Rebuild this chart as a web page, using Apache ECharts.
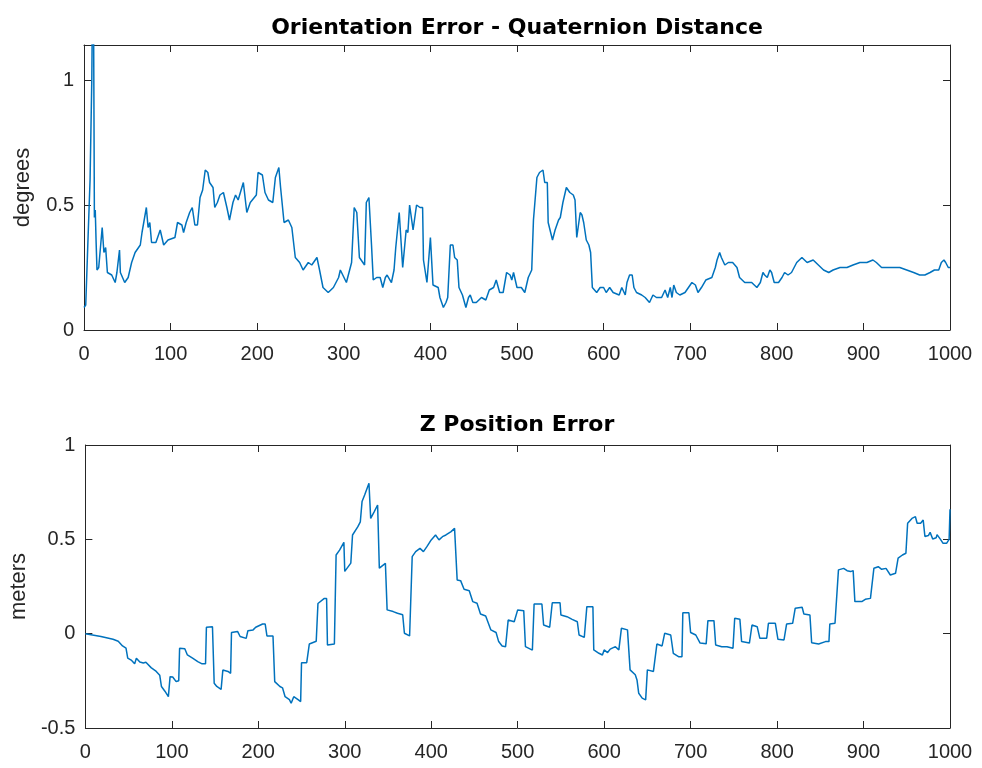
<!DOCTYPE html>
<html>
<head>
<meta charset="utf-8">
<script src="https://cdn.jsdelivr.net/npm/echarts@6/dist/echarts.min.js"></script>
<style>
  html, body { margin: 0; padding: 0; background: #fff; }
  #chart { width: 982px; height: 768px; }
</style>
</head>
<body>
<div id="chart"></div>
<script>
// Orientation error (quaternion distance), degrees, over sample index
const orientX = [0,2,4,7,9,10,11,12,13,14,15,17,21,23,25,27,32,36,38,41,42,47,51,55,59,65,67,70,72,74,76,78,83,88,92,97,105,108,113,115,118,122,125,128,131,134,137,140,143,145,149,151,154,157,161,165,168,172,175,178,184,188,192,199,201,206,209,213,218,221,225,227,231,236,240,244,249,253,259,263,269,272,276,282,288,294,296,303,309,312,315,318,324,326,329,332,334,338,342,345,348,350,355,358,360,364,366,368,370,372,374,376,378,380,382,384,388,391,392,394,396,398,400,402,403,409,411,415,418,420,422,423,426,428,431,433,437,441,444,446,449,453,459,464,468,473,476,480,484,488,492,494,496,500,505,509,513,517,519,523,526,530,532,535,536,538,541,544,548,550,553,557,561,565,567,569,571,573,575,577,580,583,585,587,592,596,600,603,607,611,618,621,625,627,630,633,635,638,644,648,653,657,661,667,671,674,677,679,681,684,688,694,698,702,706,709,713,718,725,729,731,734,736,740,744,749,754,757,763,771,777,781,784,786,789,792,794,797,802,806,809,813,817,823,829,835,842,848,854,860,865,873,881,888,896,904,911,915,921,929,935,942,950,958,965,971,977,982,987,990,993,995,998,1000];
const orientDeg = [0.09,0.10,0.30,0.60,1.00,1.40,1.30,0.45,0.48,0.35,0.24,0.25,0.41,0.31,0.33,0.23,0.22,0.19,0.23,0.32,0.23,0.19,0.21,0.27,0.31,0.34,0.39,0.45,0.49,0.41,0.43,0.35,0.35,0.40,0.34,0.36,0.37,0.43,0.42,0.39,0.43,0.47,0.49,0.42,0.42,0.53,0.56,0.64,0.63,0.59,0.57,0.49,0.51,0.54,0.55,0.49,0.44,0.51,0.54,0.52,0.59,0.47,0.51,0.54,0.63,0.62,0.55,0.52,0.51,0.61,0.65,0.57,0.43,0.44,0.41,0.29,0.27,0.24,0.27,0.26,0.29,0.24,0.17,0.15,0.17,0.21,0.24,0.19,0.27,0.49,0.47,0.29,0.26,0.51,0.53,0.34,0.20,0.21,0.21,0.17,0.21,0.22,0.19,0.24,0.33,0.47,0.47,0.25,0.25,0.40,0.39,0.50,0.50,0.40,0.40,0.50,0.49,0.49,0.28,0.28,0.19,0.19,0.37,0.37,0.18,0.17,0.13,0.09,0.11,0.13,0.13,0.34,0.34,0.29,0.28,0.17,0.14,0.09,0.13,0.14,0.11,0.11,0.13,0.12,0.16,0.17,0.20,0.15,0.15,0.23,0.22,0.20,0.23,0.17,0.17,0.15,0.21,0.24,0.44,0.61,0.63,0.64,0.59,0.59,0.43,0.43,0.36,0.40,0.44,0.45,0.51,0.57,0.55,0.54,0.52,0.37,0.37,0.47,0.46,0.43,0.36,0.34,0.31,0.17,0.15,0.17,0.17,0.15,0.17,0.15,0.14,0.17,0.14,0.19,0.22,0.22,0.17,0.15,0.14,0.13,0.11,0.14,0.13,0.13,0.16,0.13,0.17,0.13,0.18,0.15,0.14,0.15,0.17,0.19,0.18,0.15,0.17,0.20,0.21,0.25,0.28,0.31,0.29,0.26,0.27,0.27,0.25,0.21,0.19,0.19,0.17,0.19,0.23,0.22,0.21,0.24,0.23,0.19,0.19,0.21,0.23,0.22,0.23,0.27,0.29,0.27,0.28,0.26,0.24,0.23,0.24,0.25,0.25,0.26,0.27,0.27,0.28,0.27,0.25,0.25,0.25,0.25,0.24,0.23,0.22,0.22,0.23,0.24,0.24,0.27,0.28,0.27,0.25,0.25];

// Z position error, meters, over sample index
const zposX = [0,18,32,38,43,47,49,53,57,59,63,67,70,76,82,86,88,92,96,98,101,105,108,109,115,118,124,130,135,139,140,147,149,152,157,159,165,168,169,176,179,186,188,194,197,205,208,210,217,219,225,228,231,236,238,241,246,249,250,256,259,267,269,276,279,280,288,290,294,299,300,307,309,315,318,320,323,328,330,334,338,340,347,349,356,361,367,369,375,377,378,382,387,391,395,400,405,409,413,417,423,427,430,434,438,444,448,453,457,463,469,475,478,482,486,489,496,500,507,509,517,519,528,530,537,540,549,550,557,563,569,571,577,580,587,588,594,598,600,604,607,609,613,617,620,627,630,636,638,640,644,648,650,657,661,667,670,677,680,686,690,691,698,700,706,711,718,720,727,729,736,742,749,751,757,759,768,771,777,780,788,790,798,801,808,811,818,821,829,831,838,840,848,856,860,861,867,871,877,881,885,888,890,898,902,908,912,917,921,926,931,937,938,940,945,949,951,956,960,962,966,969,971,975,977,980,984,985,989,992,996,999,1000];
const zposM = [0.00,-0.015,-0.03,-0.04,-0.065,-0.077,-0.13,-0.14,-0.16,-0.13,-0.15,-0.155,-0.152,-0.18,-0.20,-0.22,-0.28,-0.305,-0.334,-0.228,-0.23,-0.254,-0.25,-0.077,-0.08,-0.113,-0.13,-0.148,-0.16,-0.16,0.034,0.037,-0.263,-0.28,-0.295,-0.193,-0.20,-0.21,0.006,0.012,-0.015,-0.025,0.016,0.02,0.034,0.051,0.051,-0.012,-0.012,-0.254,-0.28,-0.287,-0.334,-0.35,-0.369,-0.334,-0.35,-0.36,-0.154,-0.154,-0.055,-0.04,0.16,0.186,0.186,-0.06,-0.055,0.417,0.443,0.484,0.33,0.374,0.523,0.566,0.593,0.70,0.735,0.797,0.611,0.646,0.682,0.347,0.373,0.126,0.117,0.108,0.10,0.002,-0.012,-0.012,0.408,0.435,0.452,0.435,0.461,0.497,0.523,0.497,0.514,0.523,0.541,0.558,0.285,0.281,0.235,0.228,0.17,0.161,0.104,0.094,0.02,0.006,-0.042,-0.065,-0.069,0.072,0.063,0.126,0.122,-0.069,-0.087,0.157,0.157,0.046,0.034,0.164,0.164,0.099,0.09,0.076,0.063,-0.007,-0.02,0.143,0.143,-0.086,-0.104,-0.113,-0.086,-0.10,-0.082,-0.077,-0.069,-0.086,0.029,0.02,-0.192,-0.218,-0.245,-0.316,-0.342,-0.351,-0.192,-0.20,-0.055,-0.065,0.002,-0.007,-0.104,-0.122,-0.122,0.111,0.111,0.006,-0.007,-0.05,-0.054,0.069,0.069,-0.06,-0.069,-0.069,-0.077,0.082,0.076,-0.042,-0.05,0.046,0.037,-0.024,-0.024,0.055,0.055,-0.03,-0.033,0.051,0.055,0.135,0.14,0.104,0.099,-0.048,-0.055,-0.042,-0.042,0.051,0.055,0.338,0.346,0.334,0.329,0.334,0.17,0.17,0.182,0.187,0.347,0.355,0.341,0.346,0.311,0.32,0.32,0.40,0.417,0.426,0.585,0.611,0.62,0.585,0.585,0.602,0.515,0.52,0.537,0.502,0.508,0.525,0.50,0.479,0.479,0.50,0.66];

const xTicks = [0,100,200,300,400,500,600,700,800,900,1000];
const orientTicks = [0, 0.5, 1];
const zposTicks = [-0.5, 0, 0.5, 1];

const ink = '#262626';
const lineBlue = '#0072BD';
const fontFamily = 'Liberation Sans, Arial, sans-serif';
const titleFont = 'DejaVu Sans, sans-serif';

const pairs = (xs, ys) => xs.map((x, i) => [x, ys[i]]);
const fmtTick = (v) => String(Math.round(v * 100) / 100);

const boxLine = { show: true, onZero: false, lineStyle: { color: ink, width: 1 } };
const inTick = { show: true, inside: true, length: 7, lineStyle: { color: ink } };

function xAxisPair(gridIndex) {
  const common = {
    type: 'value', gridIndex, min: xTicks[0], max: xTicks[xTicks.length - 1], interval: 100,
    axisLine: boxLine, axisTick: inTick, splitLine: { show: false }
  };
  return [
    Object.assign({}, common, {
      position: 'bottom',
      axisLabel: { show: true, color: ink, fontSize: 20, fontFamily, margin: 14, formatter: (v) => String(v) }
    }),
    Object.assign({}, common, { position: 'top', axisLabel: { show: false } })
  ];
}

function yAxisPair(gridIndex, ticks, min, max, name) {
  const allowed = new Set(ticks.map(fmtTick));
  const common = {
    type: 'value', gridIndex, min, max, interval: 0.5,
    axisLine: boxLine, axisTick: inTick, splitLine: { show: false }
  };
  return [
    Object.assign({}, common, {
      position: 'left',
      name, nameLocation: 'middle', nameGap: 50, nameRotate: 90,
      nameTextStyle: { color: ink, fontSize: 22, fontFamily },
      axisLabel: {
        show: true, color: ink, fontSize: 20, fontFamily, margin: 10,
        showMaxLabel: allowed.has(fmtTick(max)),
        formatter: (v) => (allowed.has(fmtTick(v)) ? fmtTick(v) : '')
      }
    }),
    Object.assign({}, common, { position: 'right', axisLabel: { show: false } })
  ];
}

const chart = echarts.init(document.getElementById('chart'), null, { renderer: 'canvas' });

chart.setOption({
  backgroundColor: '#ffffff',
  animation: false,
  title: [
    {
      text: 'Orientation Error - Quaternion Distance', left: 512, top: 12, textAlign: 'center',
      textStyle: { color: '#000', fontSize: 22, fontWeight: 'bold', fontFamily: titleFont }
    },
    {
      text: 'Z Position Error', left: 512, top: 409, textAlign: 'center',
      textStyle: { color: '#000', fontSize: 22, fontWeight: 'bold', fontFamily: titleFont }
    }
  ],
  grid: [
    { left: 84, width: 866, top: 45, height: 285 },
    { left: 84, width: 866, top: 445, height: 283 }
  ],
  xAxis: [...xAxisPair(0), ...xAxisPair(1)],
  yAxis: [
    ...yAxisPair(0, orientTicks, 0, 1.14, 'degrees'),
    ...yAxisPair(1, zposTicks, -0.5, 1, 'meters')
  ],
  series: [
    {
      type: 'line', xAxisIndex: 0, yAxisIndex: 0, data: pairs(orientX, orientDeg),
      showSymbol: false, clip: true, lineStyle: { color: lineBlue, width: 1.5 }
    },
    {
      type: 'line', xAxisIndex: 2, yAxisIndex: 2, data: pairs(zposX, zposM),
      showSymbol: false, clip: true, lineStyle: { color: lineBlue, width: 1.5 }
    }
  ]
});
</script>
</body>
</html>
